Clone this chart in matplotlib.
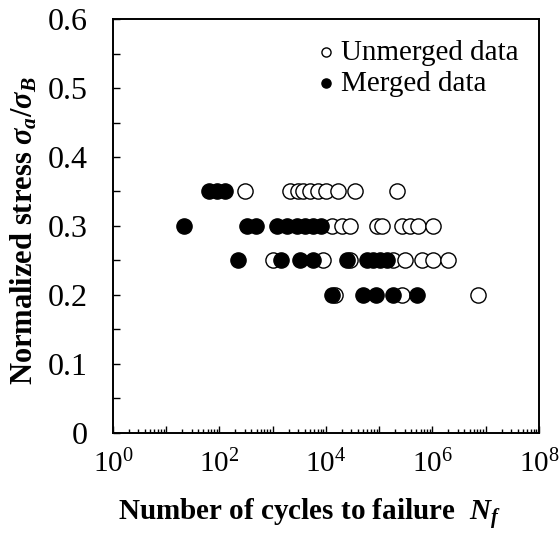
# S-N style plot: normalized stress vs cycles to failure
import numpy as np
import matplotlib
matplotlib.use('Agg')
import matplotlib.pyplot as plt
from matplotlib.ticker import FixedLocator, NullFormatter

plt.rcParams['font.family'] = 'Liberation Serif'
plt.rcParams['mathtext.fontset'] = 'custom'
plt.rcParams['mathtext.rm'] = 'Liberation Serif'
plt.rcParams['mathtext.it'] = 'Liberation Serif:italic:bold'
plt.rcParams['mathtext.bf'] = 'Liberation Serif:bold'

# Unmerged data (open circles)
unmerged_stress = [0.35] * 10 + [0.3] * 9 + [0.25] * 8 + [0.2] * 3
unmerged_cycles = [300, 2090, 2950, 3720, 5010, 7080, 10000, 17000, 34700, 214000,
                   12900, 20000, 28200, 91200, 112000, 269000, 380000, 537000, 1020000,
                   1000, 8710, 28200, 182000, 302000, 631000, 1020000, 1950000,
                   14800, 269000, 7240000]

# Merged data (filled circles)
merged_stress = [0.35] * 3 + [0.3] * 9 + [0.25] * 9 + [0.2] * 5
merged_cycles = [63, 89, 126,
                 22, 330, 490, 1200, 1860, 2880, 4070, 5750, 8130,
                 224, 1410, 3240, 5750, 24500, 58900, 77600, 102000, 138000,
                 12900, 50100, 89100, 186000, 513000]

fig = plt.figure(figsize=(5.59, 5.43), dpi=100)
ax = fig.add_axes([0.202, 0.2026, 0.762, 0.7624])

ax.scatter(unmerged_cycles, unmerged_stress, s=120, facecolors='white',
           edgecolors='black', linewidths=1.0, label='Unmerged data', zorder=2)
ax.scatter(merged_cycles, merged_stress, s=120, facecolors='black',
           edgecolors='black', linewidths=1.0, label='Merged data', zorder=3)

ax.set_xscale('log')
ax.set_xlim(1, 1e8)
ax.set_ylim(0, 0.6)

decades = [10.0 ** i for i in range(9)]
ax.xaxis.set_major_locator(FixedLocator(decades))
ax.set_xticklabels(['$10^{%d}$' % i if i % 2 == 0 else '' for i in range(9)])
minors = [m * 10.0 ** i for i in range(8) for m in range(2, 10)]
ax.xaxis.set_minor_locator(FixedLocator(minors))
ax.xaxis.set_minor_formatter(NullFormatter())

ax.set_yticks([0, 0.1, 0.2, 0.3, 0.4, 0.5, 0.6])
ax.set_yticklabels(['0', '0.1', '0.2', '0.3', '0.4', '0.5', '0.6'])
ax.yaxis.set_minor_locator(FixedLocator([0.05, 0.15, 0.25, 0.35, 0.45, 0.55]))

ax.tick_params(axis='both', which='both', direction='in', width=1.0)
ax.tick_params(axis='x', which='major', length=5, labelsize=21, pad=12)
ax.tick_params(axis='x', which='minor', length=3)
ax.tick_params(axis='y', which='both', length=5, labelsize=23, pad=18)

for sp in ax.spines.values():
    sp.set_linewidth(1.4)

ax.set_xlabel(r'Number of cycles to failure  $N_f$', fontsize=21,
              fontweight='bold')
ax.xaxis.set_label_coords(0.46, -0.155)
ax.set_ylabel(r'Normalized stress $\sigma_a\mathbf{/}\sigma_B$', fontsize=22,
              fontweight='bold')
ax.yaxis.set_label_coords(-0.172, 0.49)

ax.legend(loc='upper right', frameon=False, fontsize=21, markerscale=0.6,
          handletextpad=0.0, borderaxespad=0.3, labelspacing=0.15,
          handlelength=1.0)

fig.savefig('out.png', dpi=100)
